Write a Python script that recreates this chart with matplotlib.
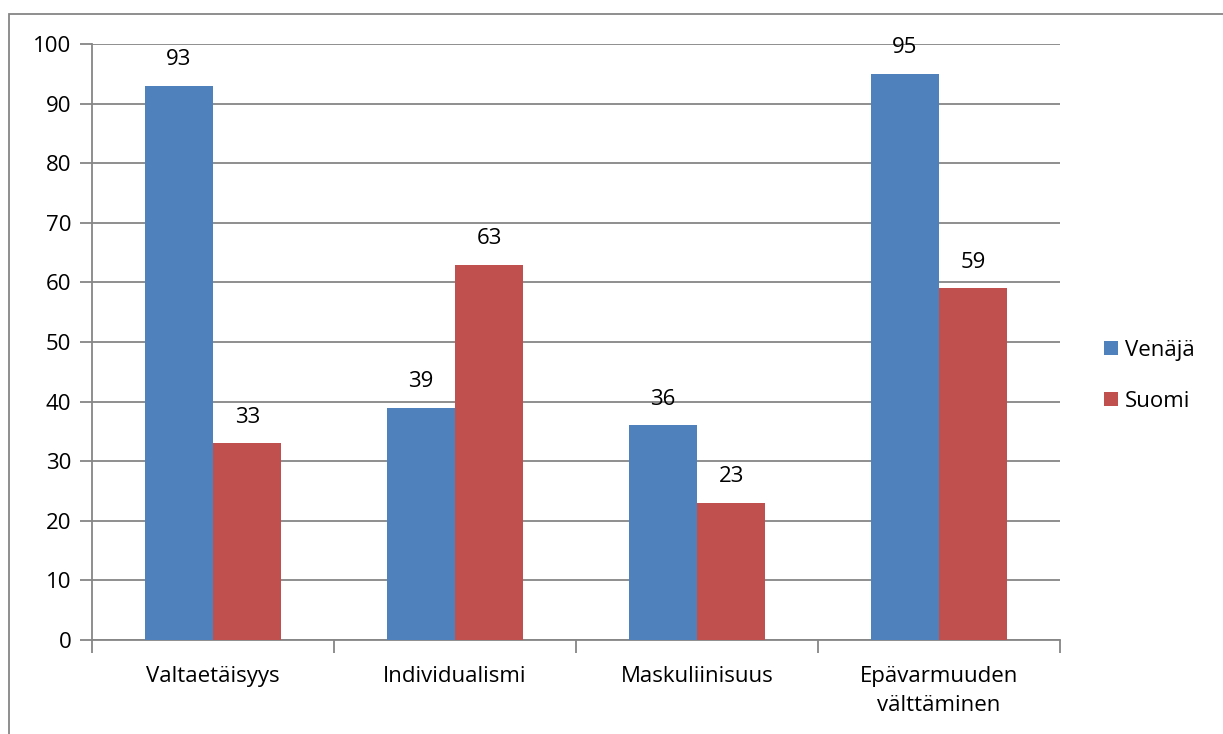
import matplotlib.pyplot as plt
import numpy as np
from matplotlib.patches import Rectangle

plt.rcParams['font.family'] = ['Open Sans', 'DejaVu Sans']

categories = ['Valtaetäisyys', 'Individualismi', 'Maskuliinisuus', 'Epävarmuuden\nvälttäminen']
venaja = [93, 39, 36, 95]
suomi = [33, 63, 23, 59]
series_names = ['Venäjä', 'Suomi']
colors = ['#4F81BD', '#C0504D']
grid_color = '#868686'
fs = 16

fig = plt.figure(figsize=(12.23, 7.34), dpi=100)
ax = fig.add_axes([92 / 1223, 94 / 734, 968 / 1223, 596 / 734])

# outer chart border (cropped at right/bottom like the original)
fig.patches.append(Rectangle((9 / 1223, -0.1), 1.2, (734 - 14) / 734 + 0.1,
                             transform=fig.transFigure, fill=False,
                             edgecolor=grid_color, linewidth=1.3))

x = np.arange(len(categories))
w = 0.283
bars1 = ax.bar(x - w / 2, venaja, w, color=colors[0], label=series_names[0], zorder=3)
bars2 = ax.bar(x + w / 2, suomi, w, color=colors[1], label=series_names[1], zorder=3)

for bars in (bars1, bars2):
    for b in bars:
        ax.text(b.get_x() + b.get_width() / 2, b.get_height() + 2.6, str(int(b.get_height())),
                ha='center', va='bottom', fontsize=fs)

ax.set_xlim(-0.5, len(categories) - 0.5)
ax.set_ylim(0, 100)
ax.set_yticks(range(0, 101, 10))
ax.yaxis.grid(True, color=grid_color, linewidth=1.3, zorder=0)

ax.set_xticks(x)
ax.set_xticklabels(categories, fontsize=fs, linespacing=1.45)
ax.tick_params(axis='x', length=0, pad=19)
ax.set_xticks(np.arange(-0.5, len(categories), 1), minor=True)
ax.tick_params(axis='x', which='minor', length=9, color=grid_color, width=1.3)
ax.tick_params(axis='y', length=9, color=grid_color, width=1.3, labelsize=fs, pad=6)

for s in ['top', 'right']:
    ax.spines[s].set_visible(False)
for s in ['left', 'bottom']:
    ax.spines[s].set_color(grid_color)
    ax.spines[s].set_linewidth(1.3)

ax.legend(loc='center left', bbox_to_anchor=(1.025, 0.443), frameon=False, fontsize=fs,
          handlelength=0.6, handleheight=0.6, handletextpad=0.35, labelspacing=1.35)

fig.savefig('out.png', dpi=100)
